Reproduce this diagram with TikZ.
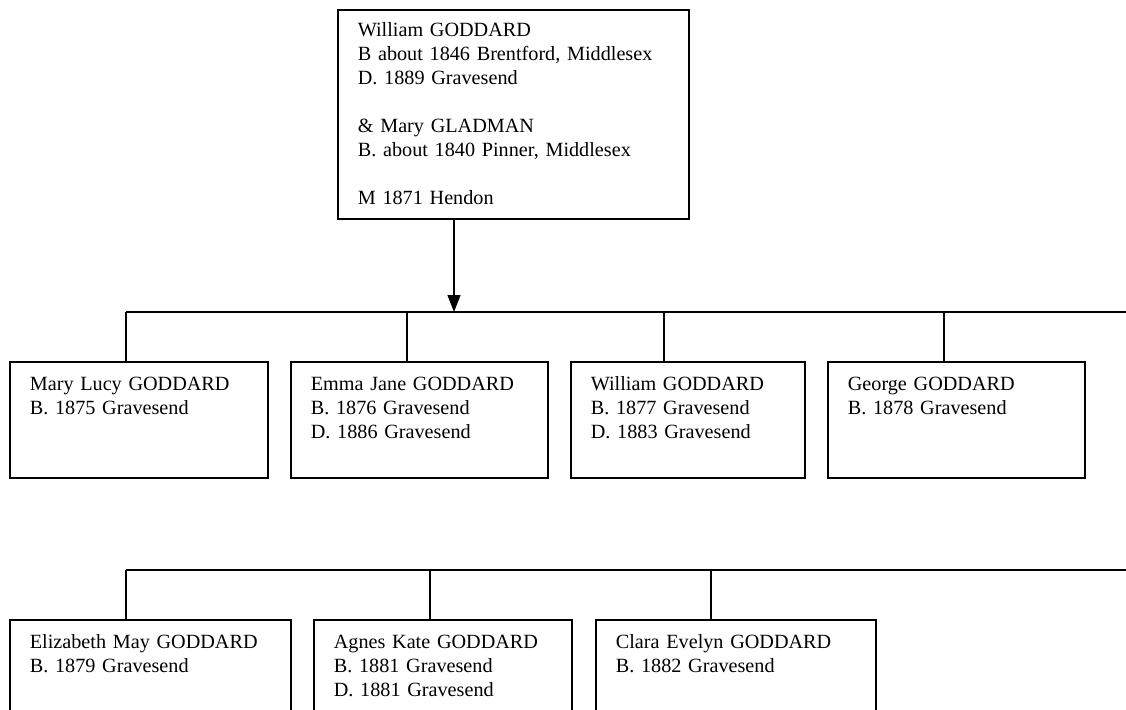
\documentclass[tikz,border=0pt]{standalone}
\usepackage{fontspec}
\setmainfont{Liberation Serif}
\usepackage{xcolor}
\usetikzlibrary{arrows.meta,calc}
\definecolor{figline}{RGB}{0,0,0}
\tikzset{
  pers/.style ={draw=figline, line width=1.7pt, anchor=north west, inner xsep=20pt, inner ysep=0pt,
                align=left, text height=29pt, text depth=87pt, font=\fontsize{20.2}{24}\selectfont},
  pair/.style ={pers, text height=27pt, text depth=182pt},
  ln/.style   ={draw=figline, line width=1.3pt},
  down/.style ={ln, -{Triangle[length=17pt,width=13pt]}},
}
\begin{document}
\begin{tikzpicture}[x=1pt,y=-1pt]
  \useasboundingbox (0,0) rectangle (1126,709);
  \clip (0,0) rectangle (1126,709);
  \node[pair,text width=311pt] (par) at (337,9) {William GODDARD\\B about 1846 Brentford, Middlesex\\D. 1889 Gravesend\\[24pt]\& Mary GLADMAN\\B. about 1840 Pinner, Middlesex\\[24pt]M 1871 Hendon};
  \begin{scope}[yshift=-312pt]
  \coordinate (j1) at (454,0);
  \coordinate (e1) at (1126,0);
  \coordinate (s1) at (126,0);
  \coordinate (s2) at (407,0);
  \coordinate (s3) at (664,0);
  \coordinate (s4) at (944,0);
  \node[pers,text width=218pt] (ml) at (9,49) {Mary Lucy GODDARD\\B. 1875 Gravesend};
  \node[pers,text width=217pt] (ej) at (290,49) {Emma Jane GODDARD\\B. 1876 Gravesend\\D. 1886 Gravesend};
  \node[pers,text width=194pt] (wg) at (570,49) {William GODDARD\\B. 1877 Gravesend\\D. 1883 Gravesend};
  \node[pers,text width=217pt] (gg) at (827,49) {George GODDARD\\B. 1878 Gravesend};
  \draw[ln] (s1) -- (e1);
  \draw[down] (j1 |- par.south) -- (j1);
  \draw[ln] (s1) -- (s1 |- ml.north);
  \draw[ln] (s2) -- (s2 |- ej.north);
  \draw[ln] (s3) -- (s3 |- wg.north);
  \draw[ln] (s4) -- (s4 |- gg.north);
  \end{scope}
  \begin{scope}[yshift=-570pt]
  \coordinate (e2) at (1126,0);
  \coordinate (t1) at (126,0);
  \coordinate (t2) at (430,0);
  \coordinate (t3) at (711,0);
  \node[pers,text width=241pt] (em) at (9,49) {Elizabeth May GODDARD\\B. 1879 Gravesend};
  \node[pers,text width=218pt] (ak) at (313,49) {Agnes Kate GODDARD\\B. 1881 Gravesend\\D. 1881 Gravesend};
  \node[pers,text width=240pt] (ce) at (595,49) {Clara Evelyn GODDARD\\B. 1882 Gravesend};
  \draw[ln] (t1) -- (e2);
  \draw[ln] (t1) -- (t1 |- em.north);
  \draw[ln] (t2) -- (t2 |- ak.north);
  \draw[ln] (t3) -- (t3 |- ce.north);
  \end{scope}
\end{tikzpicture}
\end{document}
